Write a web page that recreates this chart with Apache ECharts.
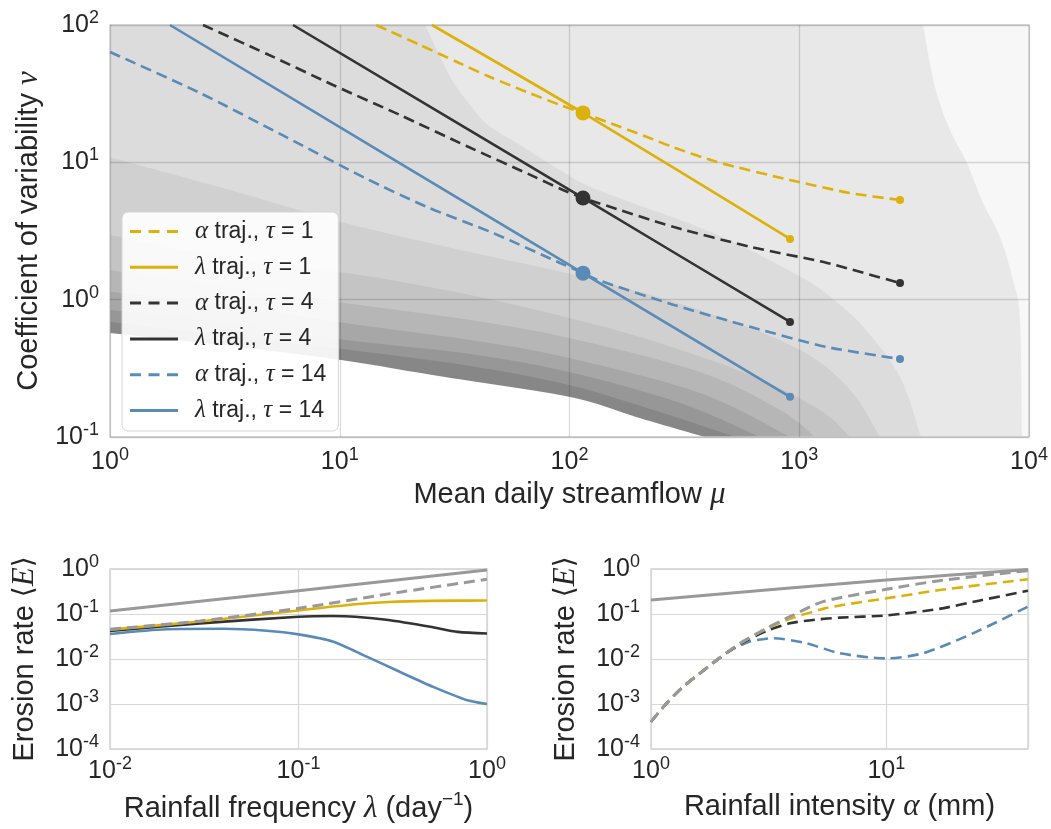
<!DOCTYPE html>
<html><head><meta charset="utf-8">
<script src="https://cdn.jsdelivr.net/npm/echarts@6/dist/echarts.min.js"></script>
<style>html,body{margin:0;padding:0;background:#fff}#c{width:1051px;height:829px}</style>
</head><body><div id="c"></div>
<script>
// ================= DATA =================
// --- main panel: trajectories in (mu, nu) space [mu, nu] ---
const alphaTrajTau1  = [[14.4,100],[16.1,91.9],[22.4,71.5],[32.4,53.8],[45.1,41.8],[65.3,32.5],[90.9,26.2],[114.5,22.9],[145.6,19.7],[217.5,15.3],[282.2,12.9],[438.5,10.06],[911.6,7.44],[1663,5.98],[2745,5.32]];
const lambdaTrajTau1 = [[25.2,100],[114.5,22.9],[911.6,2.77]];
const alphaTrajTau4  = [[2.54,100],[4.82,61.5],[9.35,36.6],[18.29,22.1],[35.8,13.1],[69.36,7.94],[93.7,6.29],[114.5,5.50],[133.1,5.06],[285.1,3.38],[616.6,2.42],[1321,1.85],[2745,1.32]];
const lambdaTrajTau4 = [[6.26,100],[114.5,5.50],[911.6,0.688]];
const alphaTrajTau14 = [[1,63.6],[2.465,32.0],[5.50,16.1],[12.88,7.69],[23.98,4.73],[46.45,3.06],[90.93,1.85],[114.5,1.56],[133.1,1.39],[285.1,0.915],[616.6,0.632],[1321,0.452],[2745,0.370]];
const lambdaTrajTau14= [[1.824,100],[114.5,1.56],[911.6,0.196]];
const refPointTau1  = [114.5,22.9];
const refPointTau4  = [114.5,5.50];
const refPointTau14 = [114.5,1.56];

// --- main panel: filled contour boundaries (dark -> light) [mu, nu] ---
const contourC1 = [[1,0.572],[3.33,0.46],[10.13,0.364],[28.7,0.273],[99.5,0.196],[194.8,0.14],[388.9,0.1]];
const contourC2 = [[1,0.688],[3.33,0.544],[11.08,0.430],[36.89,0.329],[99.5,0.239],[247.7,0.152],[525.2,0.1]];
const contourC3 = [[1,0.841],[3.33,0.676],[10.54,0.508],[36.89,0.402],[99.5,0.297],[302.7,0.177],[674.9,0.1]];
const contourC4 = [[1,1.14],[3.33,0.915],[10.54,0.676],[36.89,0.508],[99.5,0.376],[369.8,0.209],[911.6,0.1]];
const contourC5 = [[1,1.64],[3.33,1.24],[10.54,0.946],[36.89,0.711],[99.5,0.526],[369.8,0.297],[824.7,0.157],[1171,0.1]];
const contourC6 = [[1,2.96],[3.33,2.01],[12.25,1.51],[36.89,1.08],[99.5,0.736],[224.1,0.508],[610.6,0.283],[1231,0.157],[1663,0.1]];
const contourC7 = [[1,10.9],[3.33,6.29],[10.13,3.68],[36.89,2.22],[114.5,1.46],[369.8,0.841],[1008,0.430],[1663,0.220],[2246,0.1]];
const contourC8 = [[23.5,100],[26.5,65.8],[30.8,39.8],[36.89,26.2],[44.2,18.7],[60.9,13.4],[90.93,8.80],[133.1,6.29],[421.3,3.06],[1018,1.46],[1504,0.915],[1952,0.601],[2745,0.273],[3389,0.1]];
const contourC9 = [[3457,100],[3898,35.4],[4530,17.2],[5370,9.89],[6306,5.06],[7477,2.86],[8511,1.39],[9137,0.711],[9322,0.1]];

// --- lower-left panel: erosion rate vs rainfall frequency [lambda, E] ---
const freqGraySolid  = [[0.01,0.117],[0.1,0.33],[1,0.95]];
const freqGrayDashed = [[0.01,0.0457],[0.03,0.07],[0.1,0.134],[0.3,0.28],[1,0.59]];
const freqTau1  = [[0.01,0.045],[0.03,0.068],[0.1,0.12],[0.2,0.165],[0.3,0.185],[0.5,0.196],[1,0.2]];
const freqTau4  = [[0.01,0.042],[0.03,0.062],[0.1,0.087],[0.15,0.09],[0.2,0.087],[0.3,0.0736],[0.5,0.052],[0.7,0.040],[1,0.037]];
const freqTau14 = [[0.01,0.036],[0.02,0.046],[0.04,0.047],[0.0676,0.0426],[0.1,0.0353],[0.153,0.0243],[0.23,0.0113],[0.344,0.0052],[0.518,0.0024],[0.778,0.00123],[1,0.001]];

// --- lower-right panel: erosion rate vs rainfall intensity [alpha, E] ---
const intGraySolid  = [[1,0.205],[10,0.57],[40,0.98]];
const intGrayDashed = [[1,4.04e-4],[1.166,1.04e-3],[1.37,2.43e-3],[1.614,4.8e-3],[1.9,9.5e-3],[2.39,0.0223],[3.1,0.048],[3.89,0.087],[5.38,0.188],[10,0.353],[16.8,0.55],[40,0.92]];
const intTau1  = [[1,4.04e-4],[1.166,1.04e-3],[1.37,2.43e-3],[1.614,4.8e-3],[1.9,9.5e-3],[2.39,0.0223],[3.1,0.047],[3.89,0.078],[5.38,0.13],[6.34,0.155],[10,0.223],[16.8,0.34],[40,0.59]];
const intTau4  = [[1,4.04e-4],[1.166,1.04e-3],[1.37,2.43e-3],[1.614,4.8e-3],[1.9,9.5e-3],[2.39,0.0215],[3.1,0.042],[3.89,0.062],[5,0.075],[6.34,0.083],[10,0.093],[16.8,0.13],[25,0.2],[40,0.33]];
const intTau14 = [[1,4.04e-4],[1.166,1.04e-3],[1.37,2.43e-3],[1.614,4.8e-3],[1.9,9.2e-3],[2.2,0.016],[2.6,0.024],[3.3,0.029],[4.58,0.0223],[6.34,0.0134],[10,0.0103],[14.3,0.0134],[23.3,0.037],[40,0.146]];

// --- legend entries ---
const legendKeys  = ['a1','l1','a4','l4','a14','l14'];
const legendTexts = ['{m|α} traj., {m|τ} = 1','{m|λ} traj., {m|τ} = 1','{m|α} traj., {m|τ} = 4','{m|λ} traj., {m|τ} = 4','{m|α} traj., {m|τ} = 14','{m|λ} traj., {m|τ} = 14'];

// ================= STYLE =================
const F = 'Liberation Sans';
const TXT = '#262626';
const YEL = '#ddb10b', BLK = '#333333', BLU = '#5a8ab6', GRY = '#999999';
const contourFills = ['#878787','#979797','#a7a7a7','#b6b6b6','#c4c4c4','#d0d0d0','#dcdcdc','#e8e8e8','#f7f7f7'];
const DASH = [11,6];
const DASH_ICON  = 'path://M0,0h11v3h-11z M18.5,0h11v3h-11z M37,0h11v3h-11z';
const SOLID_ICON = 'path://M0,0h48v3h-48z';

const contours = [contourC1,contourC2,contourC3,contourC4,contourC5,contourC6,contourC7,contourC8,contourC9];

// smooth (Catmull-Rom -> Bezier) path through the mapped boundary points, closed along the plot border
function contourPath(curve, api){
  const P = curve.map(p => api.coord(p));
  let d = 'M' + P[0][0] + ',' + P[0][1];
  for (let i = 0; i < P.length - 1; i++) {
    const p0 = P[i-1] || P[i], p1 = P[i], p2 = P[i+1], p3 = P[i+2] || P[i+1];
    const c1 = [p1[0] + (p2[0]-p0[0])/6, p1[1] + (p2[1]-p0[1])/6];
    const c2 = [p2[0] - (p3[0]-p1[0])/6, p2[1] - (p3[1]-p1[1])/6];
    d += ' C' + c1[0] + ',' + c1[1] + ' ' + c2[0] + ',' + c2[1] + ' ' + p2[0] + ',' + p2[1];
  }
  const corners = [[1e4,0.1],[1e4,100]];
  if (curve[0][0] <= 1) corners.push([1,100]);
  corners.forEach(c => { const q = api.coord(c); d += ' L' + q[0] + ',' + q[1]; });
  return d + ' Z';
}

function pow10Label(v){
  const e = Math.log10(v), r = Math.round(e);
  if (Math.abs(e - r) > 1e-6) return '';
  return '{b|10}{s|' + (r < 0 ? '-' + (-r) : r) + '}';
}
const tickRich = {
  b:{fontFamily:F, fontSize:25, color:TXT, lineHeight:25},
  s:{fontFamily:F, fontSize:18, color:TXT, lineHeight:18, padding:[0,0,14,0]}
};
const nameRich = {
  t:{fontFamily:F, fontSize:29, color:TXT},
  m:{fontFamily:'Liberation Serif', fontStyle:'italic', fontSize:31, color:TXT},
  r:{fontFamily:'DejaVu Sans', fontSize:28, color:TXT},
  s:{fontFamily:F, fontSize:19, color:TXT, lineHeight:19, padding:[0,0,18,0]}
};
function logAxis(gi, min, max, extra){
  return Object.assign({
    type:'log', logBase:10, gridIndex:gi, min:min, max:max,
    axisLine:{show:false}, axisTick:{show:false}, minorTick:{show:false},
    splitLine:{show:true, lineStyle:{color:'#d8d8d8', width:1.2}},
    axisLabel:{formatter:pow10Label, rich:tickRich, margin:10, fontFamily:F},
    nameLocation:'middle', nameTextStyle:{rich:nameRich}
  }, extra || {});
}
function line(name, data, color, dashed, xi, width, z){
  return {name:name, type:'line', xAxisIndex:xi, yAxisIndex:xi, data:data, color:color,
    symbol:'none', smooth:0.25, clip:true, z:z||3,
    lineStyle:{color:color, width:width||2.6, type: dashed ? DASH : 'solid'}};
}
function dots(color, ref, a, l){
  return {type:'scatter', xAxisIndex:0, yAxisIndex:0, z:5, color:color,
    data:[ref, a[a.length-1], l[l.length-1]],
    symbolSize:(v, p) => p.dataIndex === 0 ? 15 : 8,
    itemStyle:{color:color, opacity:1}};
}
const yLabel = {formatter:pow10Label, rich:tickRich, margin:11};

const chart = echarts.init(document.getElementById('c'), null, {renderer:'canvas'});
chart.setOption({
  animation:false,
  backgroundColor:'#ffffff',
  grid:[
    {left:110, top:25, width:919, height:412, show:true, borderColor:'#cfcfcf', borderWidth:1.3, backgroundColor:'transparent'},
    {left:110, top:569, width:377, height:180, show:true, borderColor:'#cfcfcf', borderWidth:1.3},
    {left:651, top:569, width:377, height:180, show:true, borderColor:'#cfcfcf', borderWidth:1.3}
  ],
  xAxis:[
    logAxis(0, 1, 1e4, {name:'{t|Mean daily streamflow }{m|μ}', nameGap:41,
      axisLabel:{formatter:pow10Label, rich:tickRich, margin:13},
      splitLine:{show:true, lineStyle:{color:'rgba(0,0,0,0.14)', width:1.3}}}),
    logAxis(1, 0.01, 1, {name:'{t|Rainfall frequency }{m|λ}{t| (day}{s|−1}{t|)}', nameGap:44}),
    logAxis(2, 1, 40, {name:'{t|Rainfall intensity }{m|α}{t| (mm)}', nameGap:42})
  ],
  yAxis:[
    logAxis(0, 0.1, 100, {name:'{t|Coefficient of variability }{m|ν}', nameGap:64, axisLabel:yLabel,
      splitLine:{show:true, lineStyle:{color:'rgba(0,0,0,0.14)', width:1.3}}}),
    logAxis(1, 1e-4, 1, {name:'{t|Erosion rate }{r|⟨}{m|E}{r|⟩}', nameGap:70, axisLabel:yLabel}),
    logAxis(2, 1e-4, 1, {name:'{t|Erosion rate }{r|⟨}{m|E}{r|⟩}', nameGap:70, axisLabel:yLabel})
  ],
  legend:{
    orient:'vertical', left:122, top:212, padding:[7,12,8,8], itemGap:10.8,
    itemWidth:48, itemHeight:3, symbolKeepAspect:false,
    backgroundColor:'rgba(255,255,255,0.9)', borderColor:'#d5d5d5', borderWidth:1, borderRadius:6,
    data: legendKeys.map((k, i) => ({name:k, icon: i % 2 === 0 ? DASH_ICON : SOLID_ICON})),
    formatter: n => legendTexts[legendKeys.indexOf(n)],
    itemStyle:{borderWidth:0},
    textStyle:{fontFamily:F, fontSize:23, color:TXT, lineHeight:24, padding:[0,0,0,12],
      rich:{m:{fontFamily:'Liberation Serif', fontStyle:'italic', fontSize:25, color:TXT}}}
  },
  series:[
    {type:'custom', xAxisIndex:0, yAxisIndex:0, z:-1, silent:true, clip:true, data:[[1,1]],
      renderItem:(params, api) => ({type:'group', children: contours.map((c, i) => ({
        type:'path', shape:{pathData: contourPath(c, api)}, style:{fill: contourFills[i]}
      }))})},
    line('a1', alphaTrajTau1, YEL, true, 0),
    line('l1', lambdaTrajTau1, YEL, false, 0),
    line('a4', alphaTrajTau4, BLK, true, 0),
    line('l4', lambdaTrajTau4, BLK, false, 0),
    line('a14', alphaTrajTau14, BLU, true, 0),
    line('l14', lambdaTrajTau14, BLU, false, 0),
    dots(YEL, refPointTau1, alphaTrajTau1, lambdaTrajTau1),
    dots(BLK, refPointTau4, alphaTrajTau4, lambdaTrajTau4),
    dots(BLU, refPointTau14, alphaTrajTau14, lambdaTrajTau14),

    line('f14', freqTau14, BLU, false, 1, 2.6, 3),
    line('f4', freqTau4, BLK, false, 1, 2.6, 3),
    line('f1', freqTau1, YEL, false, 1, 2.6, 3),
    line('fgd', freqGrayDashed, GRY, true, 1, 3, 4),
    line('fgs', freqGraySolid, GRY, false, 1, 3, 4),

    line('i14', intTau14, BLU, true, 2, 2.6, 3),
    line('i4', intTau4, BLK, true, 2, 2.6, 3),
    line('i1', intTau1, YEL, true, 2, 2.6, 3),
    line('igd', intGrayDashed, GRY, true, 2, 3, 4),
    line('igs', intGraySolid, GRY, false, 2, 3, 4)
  ]
});
</script></body></html>
